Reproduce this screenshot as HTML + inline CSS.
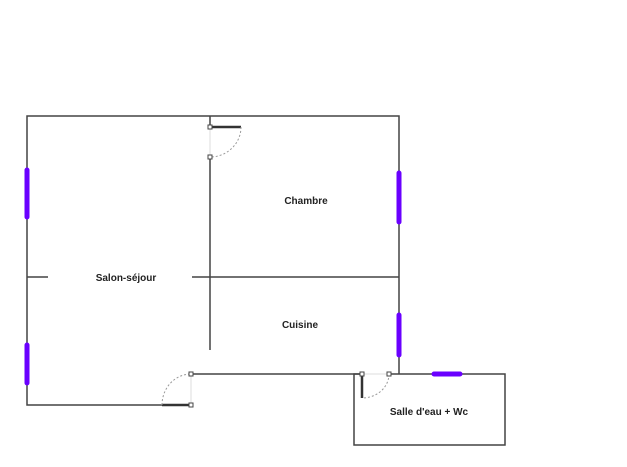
<!DOCTYPE html>
<html><head><meta charset="utf-8"><style>
html,body{margin:0;padding:0;background:#fff;width:627px;height:467px;overflow:hidden}
text{font-family:"Liberation Sans",sans-serif;font-size:10px;font-weight:bold;fill:#222}
</style></head><body>
<svg width="627" height="467" xmlns="http://www.w3.org/2000/svg">
<g stroke="#444" stroke-width="1.5" fill="none">
<path d="M162 405 H27 V116 H399 V374"/>
<path d="M191 374 H362"/>
<path d="M389 374 H505 V445 H354 V374 H362"/>
<path d="M210 116 V126 M210 157 V350"/>
<path d="M27 277 H48 M192 277 H399"/>
</g>
<g stroke="#333" stroke-width="2.5">
<path d="M162 405 H191"/>
<path d="M210 127 H241"/>
<path d="M362 374 V398"/>
</g>
<g stroke="#ddd" stroke-width="1">
<path d="M191 374 V405 M210 127 V157 M362 374 H389"/>
</g>
<g stroke="#999" stroke-width="1" stroke-dasharray="2,2" fill="none">
<path d="M162 405 A29 31 0 0 1 191 374"/>
<path d="M241 127 A31 30 0 0 1 210 157"/>
<path d="M389 374 A27 24 0 0 1 362 398"/>
</g>
<g fill="#fff" stroke="#444" stroke-width="1">
<rect x="189" y="372" width="4" height="4"/><rect x="189" y="403" width="4" height="4"/>
<rect x="208" y="125" width="4" height="4"/><rect x="208" y="155" width="4" height="4"/>
<rect x="360" y="372" width="4" height="4"/><rect x="387" y="372" width="4" height="4"/>
</g>
<g stroke="#6a00ff" stroke-width="5" stroke-linecap="round">
<path d="M27 170 V217 M27 345 V383 M399 173 V222 M399 315 V355 M434 374 H460"/>
</g>
<text x="306" y="204" text-anchor="middle">Chambre</text>
<text x="126" y="281" text-anchor="middle">Salon-séjour</text>
<text x="300" y="328" text-anchor="middle">Cuisine</text>
<text x="429" y="415" text-anchor="middle">Salle d'eau + Wc</text>
</svg>
</body></html>
